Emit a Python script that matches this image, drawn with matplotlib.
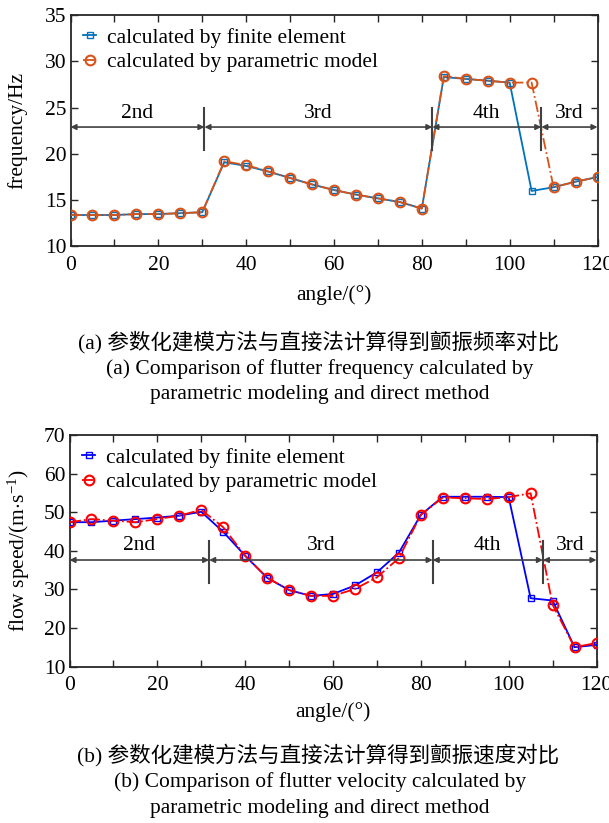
import matplotlib
matplotlib.use("Agg")
import matplotlib.pyplot as plt

plt.rcParams['font.family'] = ['Liberation Serif', 'Noto Sans CJK SC']
plt.rcParams['mathtext.fontset'] = 'custom'
plt.rcParams['mathtext.rm'] = 'Liberation Serif'
plt.rcParams['mathtext.it'] = 'Liberation Serif:italic'

# ---------------- data ----------------
angle = [0, 5, 10, 15, 20, 25, 30, 35, 40, 45, 50, 55, 60, 65, 70, 75, 80,
         85, 90, 95, 100, 105, 110, 115, 120]

freq_fe = [13.4, 13.4, 13.4, 13.5, 13.5, 13.6, 13.7, 19.1, 18.7, 18.1, 17.4, 16.7, 16.1,
           15.6, 15.2, 14.8, 14.1, 28.3, 28.1, 27.9, 27.7, 16.0, 16.4, 17.0, 17.5]
freq_pm = [13.4, 13.4, 13.4, 13.5, 13.5, 13.6, 13.7, 19.2, 18.8, 18.1, 17.4, 16.7, 16.1,
           15.6, 15.2, 14.8, 14.1, 28.4, 28.1, 27.9, 27.7, 27.7, 16.4, 17.0, 17.5]

speed_fe = [47.4, 47.4, 47.8, 48.2, 48.6, 49.1, 50.1, 44.9, 38.7, 33.0, 29.8, 28.3, 28.8,
            31.0, 34.4, 39.5, 49.3, 54.0, 54.0, 54.0, 53.9, 27.7, 27.1, 15.0, 15.6]
speed_pm = [47.4, 48.2, 47.8, 47.4, 48.2, 49.1, 50.6, 46.1, 38.7, 33.0, 29.8, 28.3, 28.3,
            30.1, 33.1, 38.1, 49.3, 53.8, 53.6, 53.4, 53.9, 54.9, 26.0, 15.0, 16.1]

freq_bounds = [0, 30.5, 82.4, 107.2, 120]
speed_bounds = [0, 31.8, 82.7, 107.8, 120]
mode_labels = ['2nd', '3rd', '4th', '3rd']

legend_labels = ['calculated by finite element', 'calculated by parametric model']
xticks = [0, 20, 40, 60, 80, 100, 120]

FS = 15.5
W, H = 609, 823
fig = plt.figure(figsize=(W / 100, H / 100), dpi=100)

def frac_box(l, t, r, b):
    return [l / W, 1 - b / H, (r - l) / W, (b - t) / H]

ax1 = fig.add_axes(frac_box(70.5, 15, 597.5, 246.5))
ax2 = fig.add_axes(frac_box(69.5, 435, 596.5, 666.5))

ARROW_C = '#404040'

def style_axes(ax, ylim, yticks, ylabel, xlab_y, ylab_x):
    ax.set_xlim(0, 120)
    ax.set_ylim(*ylim)
    ax.set_xticks(range(0, 121, 10), minor=True)
    ax.set_xticks(xticks)
    ax.set_yticks(yticks)
    ax.tick_params(which='both', direction='in', top=True, right=True, length=5,
                   width=1.0, color='#262626')
    ax.tick_params(axis='x', labelsize=FS, pad=7)
    ax.tick_params(axis='y', labelsize=FS, pad=3)
    for s in ax.spines.values():
        s.set_linewidth(1.3)
        s.set_color('#262626')
    ax.set_xlabel('angle/(°)', fontsize=FS)
    ax.set_ylabel(ylabel, fontsize=FS)
    ax.xaxis.set_label_coords(0.5, xlab_y)
    ax.yaxis.set_label_coords(ylab_x, 0.5)

def annotate_modes(ax, bounds, y_arrow, y_lo, y_hi, y_text):
    for b in bounds:
        ax.plot([b, b], [y_lo, y_hi], color=ARROW_C, lw=1.5, clip_on=False, zorder=4)
    for i in range(len(bounds) - 1):
        ax.annotate('', xy=(bounds[i + 1], y_arrow), xytext=(bounds[i], y_arrow),
                    arrowprops=dict(arrowstyle='<|-|>', color=ARROW_C, lw=1.2,
                                    mutation_scale=8, shrinkA=0, shrinkB=0), zorder=4)
        ax.text((bounds[i] + bounds[i + 1]) / 2, y_text, mode_labels[i],
                ha='center', va='center', fontsize=FS)

def add_legend(ax):
    ax.legend(loc='upper left', frameon=False, fontsize=FS, handlelength=0.6,
              handletextpad=0.5, labelspacing=0.2, borderaxespad=0.3,
              borderpad=0.3, bbox_to_anchor=(0.0, 1.0))

# ---------- top chart ----------
c_fe1, c_pm1 = '#0072BD', '#D95319'
ax1.plot(angle, freq_fe, '-', color=c_fe1, lw=1.3, marker='s', ms=5, mfc='none',
         mec=c_fe1, mew=1.0, label=legend_labels[0], zorder=3)
ax1.plot(angle, freq_pm, '-.', color=c_pm1, lw=1.3, marker='o', ms=7, mfc='none',
         mec=c_pm1, mew=1.5, label=legend_labels[1], zorder=3)
style_axes(ax1, (10, 35), [10, 15, 20, 25, 30, 35], 'frequency/Hz', -0.168, -0.082)
annotate_modes(ax1, freq_bounds, 22.9, 20.4, 25.0, 24.4)
add_legend(ax1)

# ---------- bottom chart ----------
c_fe2, c_pm2 = '#0000FF', '#FF0000'
ax2.plot(angle, speed_fe, '-', color=c_fe2, lw=1.3, marker='s', ms=5, mfc='none',
         mec=c_fe2, mew=1.0, label=legend_labels[0], zorder=3)
ax2.plot(angle, speed_pm, '-.', color=c_pm2, lw=1.3, marker='o', ms=7, mfc='none',
         mec=c_pm2, mew=1.5, label=legend_labels[1], zorder=3)
style_axes(ax2, (10, 70), [10, 20, 30, 40, 50, 60, 70], r'flow speed/(m$\cdot$s$^{-1}$)',
           -0.153, -0.072)
annotate_modes(ax2, speed_bounds, 37.6, 31.7, 42.6, 41.3)
add_legend(ax2)

# ---------- captions ----------
cap_kw = dict(ha='center', va='center', fontsize=FS)
fig.text(318 / W, 1 - 342 / H, '(a) 参数化建模方法与直接法计算得到颤振频率对比', **cap_kw)
fig.text(320 / W, 1 - 369 / H, '(a) Comparison of flutter frequency calculated by', **cap_kw)
fig.text(320 / W, 1 - 395 / H, 'parametric modeling and direct method', **cap_kw)
fig.text(318 / W, 1 - 755 / H, '(b) 参数化建模方法与直接法计算得到颤振速度对比', **cap_kw)
fig.text(320 / W, 1 - 782.5 / H, '(b) Comparison of flutter velocity calculated by', **cap_kw)
fig.text(320 / W, 1 - 809 / H, 'parametric modeling and direct method', **cap_kw)

fig.savefig('out.png', dpi=100)
